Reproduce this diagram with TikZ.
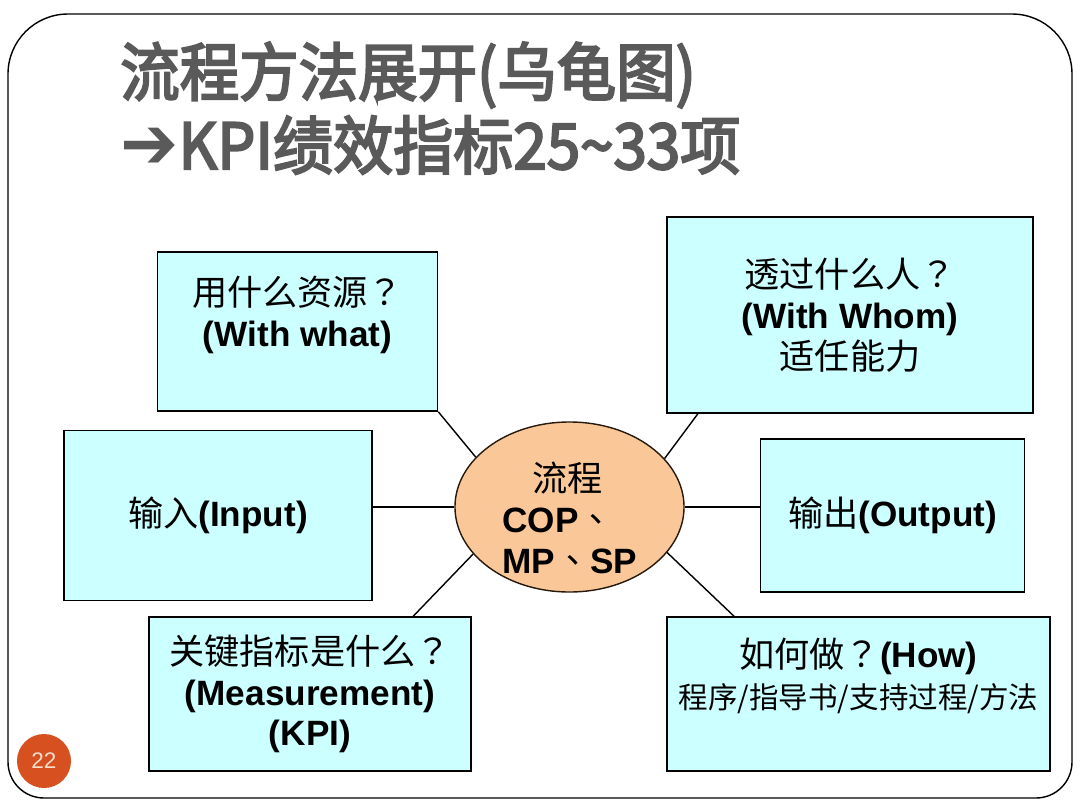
\documentclass[tikz,border=0pt]{standalone}
\usepackage{fontspec}
\setmainfont{Liberation Sans}
\newfontfamily\cjk{Noto Sans CJK SC}
\newfontfamily\cjkpunct{Noto Sans CJK TC}
\newfontfamily\cjkhead[FakeBold=3.5]{Noto Sans CJK SC}
\newfontfamily\symb{DejaVu Sans}
\usetikzlibrary{shapes.geometric}

\definecolor{boxcyan}{RGB}{204,255,255}
\definecolor{hubpeach}{RGB}{250,200,152}
\definecolor{titlegray}{RGB}{90,90,90}
\definecolor{pagered}{RGB}{214,80,32}
\definecolor{pagetext}{RGB}{250,222,204}

\newcommand{\cn}[1]{{\cjk #1}}
\newcommand{\qm}{{\cjkpunct ？}}
\newcommand{\dun}{{\cjkpunct\mdseries 、}}

\begin{document}
\begin{tikzpicture}[x=0.025cm,y=-0.025cm,
	qbox/.style={draw=black,fill=boxcyan,line width=1.1pt,align=center,font=\fontsize{25}{29}\selectfont},
	hub/.style={ellipse,draw=black!80!brown,fill=hubpeach,line width=1pt,minimum width=5.725cm,minimum height=4.25cm,inner sep=0pt},
	hubtext/.style={align=left,inner sep=0pt,font=\fontsize{25}{29}\selectfont\bfseries},
	headline/.style={anchor=west,inner sep=0pt,text=titlegray,font=\cjkhead\fontsize{45}{54}\selectfont},
	link/.style={line width=1pt}]
	\useasboundingbox (0,0) rectangle (1080,810);
	% slide frame
	\draw[line width=1pt] (8,400) [rounded corners=1.5cm] -- (8,14) -- (1072,14) -- (1072,400) [rounded corners=0.9cm] -- (1072,798) -- (8,798) -- cycle;
	% title
	\node[headline] (head1) at (120,75) {\scalebox{0.94}[1]{流程方法展开(乌龟图)}};
	\node[headline] (head2) at (120,145) {\scalebox{0.95}[1]{{\symb\fontsize{52}{52}\selectfont ➔}KPI绩效指标25\textasciitilde33项}};
	% questions
	\node[qbox,minimum width=7cm,minimum height=3.975cm] (what) at (297.5,331.5) {\cn{用什么资源}\qm\\\textbf{(With what)}\\\mbox{}};
	\node[qbox,minimum width=9.15cm,minimum height=4.9cm] (whom) at (850,315) {\cn{透过什么人}\qm\\\textbf{(With Whom)}\\\cn{适任能力}};
	\node[qbox,minimum width=7.7cm,minimum height=4.25cm] (input) at (218,515.5) {\cn{输入}\textbf{(Input)}};
	\node[qbox,minimum width=6.6cm,minimum height=3.825cm] (output) at (892.5,515.5) {\cn{输出}\textbf{(Output)}};
	\node[qbox,minimum width=8.05cm,minimum height=3.85cm] (kpi) at (310,694) {\cn{关键指标是什么}\qm\\\textbf{(Measurement)}\\\textbf{(KPI)}};
	\node[qbox,minimum width=9.575cm,minimum height=3.85cm] (how) at (858.5,694) {\cn{如何做}\qm\textbf{(How)}\\{\cjk\fontsize{21}{26}\selectfont 程序/指导书/支持过程/方法}\\\mbox{}};
	% process
	\node[hub] (process) at (569.5,507) {};
	\node[hubtext] (processtext) at (570,518) {\hspace*{0.75cm}{\cjk\mdseries 流程}\\COP\dun\\MP\dun SP};
	\draw[link] (what.south east) -- (process.152);
	\draw[link] (whom.213) -- (process.27);
	\draw[link] (input.east |- process.west) -- (process.west);
	\draw[link] (process.east) -- (process.east -| output.west);
	\draw[link] (kpi.37) -- (process.206);
	\draw[link] (how.148) -- (process.335);
	% page number
	\node[circle,fill=pagered,minimum size=1.35cm,inner sep=0pt,text=pagetext,font=\fontsize{16}{16}\selectfont] (page) at (44,761) {22};
\end{tikzpicture}
\end{document}
